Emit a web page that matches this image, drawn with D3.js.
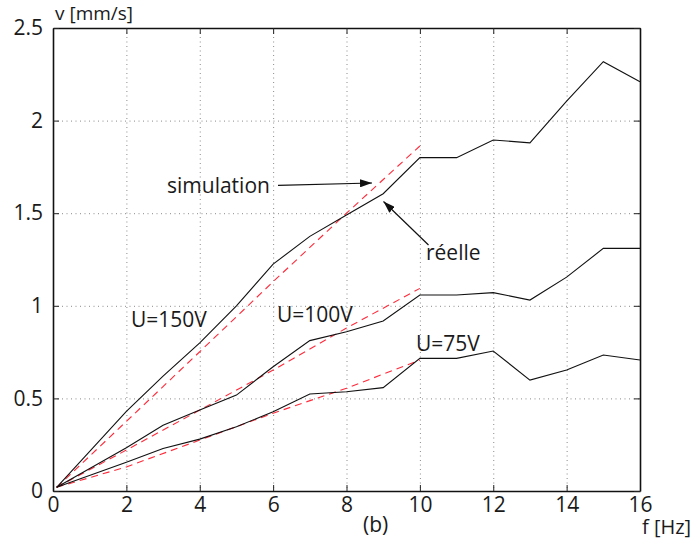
<!DOCTYPE html>
<html>
<head>
<meta charset="utf-8">
<script src="https://cdn.jsdelivr.net/npm/d3@7"></script>
<style>
  body { margin: 0; background: #fff; }
  text { font-family: "Open Sans", "Noto Sans", sans-serif; fill: #1a1a1a; }
</style>
</head>
<body>
<svg id="chart" width="694" height="547"></svg>
<script>
// Measured speed v [mm/s] versus drive frequency f [Hz] for three voltages
const freqMeas = [0.1, 2, 3, 4, 5, 6, 7, 8, 9, 10, 11, 12, 13, 14, 15, 16];
const meas150 = [0.02, 0.43, 0.62, 0.80, 1.00, 1.225, 1.375, 1.49, 1.605, 1.80, 1.80, 1.895, 1.88, 2.105, 2.318, 2.21];
const meas100 = [0.02, 0.234, 0.355, 0.437, 0.518, 0.671, 0.812, 0.86, 0.918, 1.058, 1.058, 1.071, 1.031, 1.155, 1.31, 1.31];
const meas75  = [0.02, 0.155, 0.23, 0.28, 0.347, 0.428, 0.524, 0.536, 0.558, 0.716, 0.716, 0.756, 0.599, 0.653, 0.734, 0.707];

// Simulated speed, computed up to 10 Hz
const freqSim = [0.1, 2, 4, 6, 8, 10];
const sim150 = [0.02, 0.376, 0.752, 1.13, 1.50, 1.863];
const sim100 = [0.02, 0.221, 0.437, 0.653, 0.88, 1.094];
const sim75  = [0.02, 0.13, 0.275, 0.42, 0.555, 0.707];

const xTicks = [0, 2, 4, 6, 8, 10, 12, 14, 16];
const yTicks = [0, 0.5, 1, 1.5, 2, 2.5];
const yTickLabels = ["0", "0.5", "1", "1.5", "2", "2.5"];

const svg = d3.select("#chart");
const plotL = 53, plotR = 640, plotT = 28, plotB = 491;
const fs = 21;

const x = d3.scaleLinear().domain([0, 16]).range([plotL, plotR]);
const y = d3.scaleLinear().domain([0, 2.5]).range([plotB, plotT]);

// dotted grid
const grid = svg.append("g").attr("stroke", "#8a8a8a").attr("stroke-width", 1)
  .attr("stroke-dasharray", "1,3.5");
grid.selectAll(".gx").data(xTicks.slice(1, -1)).join("line")
  .attr("x1", d => x(d) + 0.5).attr("x2", d => x(d) + 0.5)
  .attr("y1", plotT).attr("y2", plotB);
grid.selectAll(".gy").data(yTicks.slice(1, -1)).join("line")
  .attr("y1", d => y(d) + 0.5).attr("y2", d => y(d) + 0.5)
  .attr("x1", plotL).attr("x2", plotR);

// axes with inward ticks on all four sides
const tickLen = 6;
svg.append("g").attr("transform", `translate(0,${plotB})`)
  .call(d3.axisBottom(x).tickValues(xTicks).tickSizeInner(-tickLen).tickSizeOuter(0).tickPadding(6))
  .call(g => g.selectAll("text").attr("font-size", fs).attr("fill", "#1a1a1a"));
svg.append("g").attr("transform", `translate(0,${plotT})`)
  .call(d3.axisTop(x).tickValues(xTicks).tickSizeInner(-tickLen).tickSizeOuter(0).tickFormat(""));
svg.append("g").attr("transform", `translate(${plotL},0)`)
  .call(d3.axisLeft(y).tickValues(yTicks).tickSizeInner(-tickLen).tickSizeOuter(0).tickPadding(10)
    .tickFormat((d, i) => yTickLabels[i]))
  .call(g => g.selectAll("text").attr("font-size", fs).attr("fill", "#1a1a1a"));
svg.append("g").attr("transform", `translate(${plotR},0)`)
  .call(d3.axisRight(y).tickValues(yTicks).tickSizeInner(-tickLen).tickSizeOuter(0).tickFormat(""));
svg.selectAll(".domain").attr("stroke", "#111").attr("stroke-width", 1.6);
svg.selectAll(".tick line").attr("stroke", "#222");

// curves
const line = d3.line().x(d => x(d[0])).y(d => y(d[1]));
const zipped = (fv, vs) => fv.map((f, i) => [f, vs[i]]);

[sim150, sim100, sim75].forEach(vs => {
  svg.append("path").datum(zipped(freqSim, vs)).attr("d", line)
    .attr("fill", "none").attr("stroke", "#ff2a3a").attr("stroke-width", 1.1)
    .attr("stroke-dasharray", "7,5");
});
[meas150, meas100, meas75].forEach(vs => {
  svg.append("path").datum(zipped(freqMeas, vs)).attr("d", line)
    .attr("fill", "none").attr("stroke", "#111").attr("stroke-width", 1.1);
});

// axis titles
svg.append("text").attr("x", 55).attr("y", 20).attr("font-size", 19).text("v [mm/s]");
svg.append("text").attr("x", 642).attr("y", 534).attr("font-size", 20).text("f [Hz]");
svg.append("text").attr("x", 363).attr("y", 532).attr("font-size", fs).text("(b)");

// voltage labels
svg.append("text").attr("x", 131).attr("y", 327).attr("font-size", fs).text("U=150V");
svg.append("text").attr("x", 277).attr("y", 322).attr("font-size", fs).text("U=100V");
svg.append("text").attr("x", 416).attr("y", 351).attr("font-size", fs).text("U=75V");

// annotation arrows
svg.append("defs").append("marker").attr("id", "head")
  .attr("viewBox", "0 0 12 8").attr("refX", 12).attr("refY", 4)
  .attr("markerWidth", 12).attr("markerHeight", 8).attr("markerUnits", "userSpaceOnUse")
  .attr("orient", "auto")
  .append("path").attr("d", "M0,0 L12,4 L0,8 Z").attr("fill", "#111");

svg.append("text").attr("x", 167).attr("y", 193).attr("font-size", fs).text("simulation");
svg.append("line").attr("x1", 278).attr("y1", 185.3).attr("x2", 372).attr("y2", 183)
  .attr("stroke", "#111").attr("stroke-width", 1.2).attr("marker-end", "url(#head)");

svg.append("text").attr("x", 426).attr("y", 260).attr("font-size", fs).text("réelle");
svg.append("line").attr("x1", 428.5).attr("y1", 245).attr("x2", 383.5).attr("y2", 201.5)
  .attr("stroke", "#111").attr("stroke-width", 1.2).attr("marker-end", "url(#head)");
</script>
</body>
</html>
